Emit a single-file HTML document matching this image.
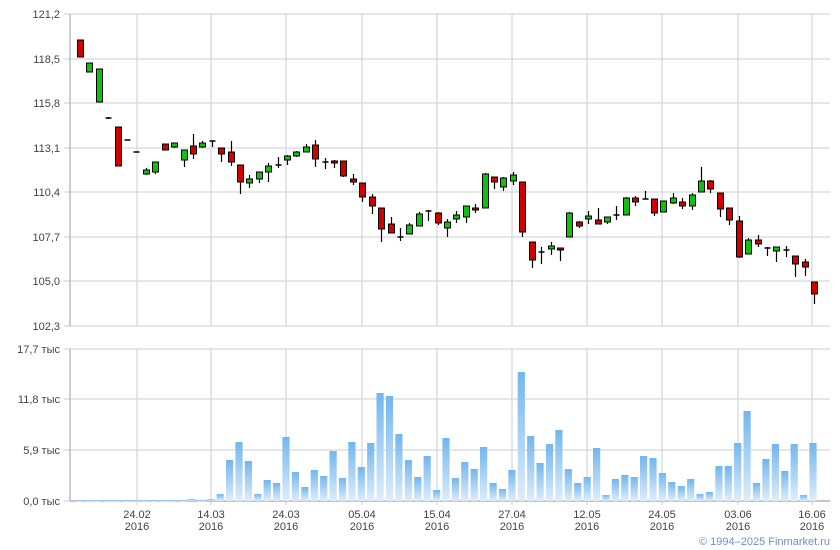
<!DOCTYPE html>
<html><head><meta charset="utf-8"><style>
html,body{margin:0;padding:0;background:#fff;}
svg{display:block;font-family:"Liberation Sans",sans-serif;}
</style></head><body>
<svg id="s" width="840" height="550" xmlns="http://www.w3.org/2000/svg">
<defs><linearGradient id="vg" x1="0" y1="0" x2="0" y2="1"><stop offset="0" stop-color="#72b6ef"/><stop offset="1" stop-color="#deedfa"/></linearGradient></defs>
<g id="grid" stroke="#d3d7dc" stroke-width="1.2"></g>
<g id="lab" font-size="11" fill="#444"></g>
<g id="vol"></g>
<g id="cnd"></g>
<text x="830" y="545" font-size="11" fill="#6a8fd0" text-anchor="end">© 1994–2025 Finmarket.ru</text>
</svg>
<script>
var NS="http://www.w3.org/2000/svg";
function el(p,t,a,tx){var e=document.createElementNS(NS,t);for(var k in a)e.setAttribute(k,a[k]);if(tx!==undefined)e.textContent=tx;document.getElementById(p).appendChild(e);return e;}
var py=[14,59,103,148,192,237,281,326],pl=["121,2","118,5","115,8","113,1","110,4","107,7","105,0","102,3"];
py.forEach(function(y,i){el("grid","line",{x1:64,x2:830,y1:y,y2:y});el("lab","text",{x:60,y:y+4,"text-anchor":"end"},pl[i]);});
var vy=[349,399,450,501],vl=["17,7 тыс","11,8 тыс","5,9 тыс","0,0 тыс"];
vy.forEach(function(y,i){el("grid","line",{x1:64,x2:830,y1:y,y2:y});el("lab","text",{x:60,y:y+4,"text-anchor":"end"},vl[i]);});
var xs=[137,211,286,362,437,512,587,662,738,812],xl=["24.02","14.03","24.03","05.04","15.04","27.04","12.05","24.05","03.06","16.06"];
xs.forEach(function(x,i){el("grid","line",{x1:x,x2:x,y1:14,y2:326});el("grid","line",{x1:x,x2:x,y1:349,y2:505});
el("lab","text",{x:x,y:518,"text-anchor":"middle"},xl[i]);el("lab","text",{x:x,y:530,"text-anchor":"middle"},"2016");});
el("grid","line",{x1:70,x2:70,y1:14,y2:326,stroke:"#a9a9bb"});
el("grid","line",{x1:70,x2:70,y1:349,y2:501,stroke:"#a9a9bb"});
el("grid","line",{x1:70,x2:830,y1:501,y2:501,stroke:"#a9a9bb"});
var C=[[40,57,40,57,'r'],[63,72,63,72,'g'],[69,102,69,102,'g'],[118,118,117,119,'d'],[127,166,127,166,'r'],[140,140,140,140,'d'],[152,152,152,152,'d'],
[170,174,168,175,'g'],[162,172,162,174,'g'],[144,150,144,150,'r'],[143,147,143,148,'g'],[150,160,150,167,'g'],[146,154,134,159,'r'],[143,147,141,148,'g'],[141,141,141,147,'d'],[148,154,148,162,'r'],[152,162,141,166,'r'],[165,182,165,194,'r'],[179,183,175,188,'g'],[172,179,172,183,'g'],[166,172,163,182,'g'],[165,165,157,168,'d'],[156,160,155,165,'g'],[152,156,151,157,'g'],[147,152,144,152,'g'],[145,159,140,167,'r'],[162,162,158,169,'d'],[161,163,160,168,'r'],[161,176,161,177,'r'],[179,182,174,185,'r'],[183,197,183,202,'r'],[197,206,194,214,'r'],[208,229,208,242,'r'],[224,233,217,233,'r'],[237,237,228,241,'d'],[225,234,223,234,'g'],[214,226,212,226,'g'],[211,211,210,221,'d'],[213,223,212,225,'r'],
[222,228,219,237,'g'],[215,219,211,223,'g'],[206,217,206,223,'g'],[208,210,204,213,'r'],[174,208,173,208,'g'],[177,182,177,189,'r'],[178,187,177,191,'g'],[175,181,172,185,'g'],[182,232,182,237,'r'],[242,260,242,268,'r'],[252,252,247,264,'d'],[246,249,242,255,'g'],[248,249,248,261,'r'],[213,237,212,237,'g'],[222,226,221,228,'r'],[216,219,211,224,'g'],[220,224,208,224,'r'],[217,222,217,224,'g'],[215,215,206,220,'d'],[198,215,197,215,'g'],[198,202,196,206,'r'],[199,199,191,199,'d'],[199,213,199,216,'r'],[201,212,201,212,'g'],[198,203,193,204,'g'],[202,206,198,209,'r'],[195,206,193,210,'g'],[181,192,167,192,'g'],[181,189,180,193,'r'],[193,209,193,217,'r'],[208,220,208,225,'r'],[221,257,216,258,'r'],[240,254,238,254,'g'],[240,244,235,247,'r'],[248,248,247,256,'d'],[247,251,247,262,'g'],[250,250,246,257,'d'],[256,264,256,277,'r'],[262,267,259,276,'r'],[282,294,282,304,'r']];
var V=[500,500,500,500,500,500,500,500,500,500,500,500,499,500,499,494,460,442,461,494,480,483,437,472,487,470,476,451,478,442,467,443,393,396,434,460,477,456,490,438,478,462,469,447,483,489,470,372,436,463,444,430,469,483,477,448,495,479,475,477,456,458,473,482,486,479,494,492,466,466,443,411,483,459,444,471,444,495,443];
var sp=(813-79)/78;
V.forEach(function(t,i){var x=79+sp*i;el("vol","rect",{x:(x-3.6).toFixed(1),y:t,width:7.2,height:Math.max(1.5,501-t),fill:"url(#vg)"});});
C.forEach(function(c,i){var x=Math.round(80+sp*i)+0.5;
el("cnd","line",{x1:x,x2:x,y1:c[2],y2:c[3],stroke:"#000","stroke-width":1.2});
if(c[4]=='d'){el("cnd","line",{x1:x-3,x2:x+3,y1:c[0],y2:c[0],stroke:"#000","stroke-width":1.5});}
else el("cnd","rect",{x:x-3,y:c[0],width:6,height:Math.max(2,c[1]-c[0]),fill:c[4]=='r'?"#d10000":"#10c010",stroke:"#000","stroke-width":1});});
</script>
</body></html>
